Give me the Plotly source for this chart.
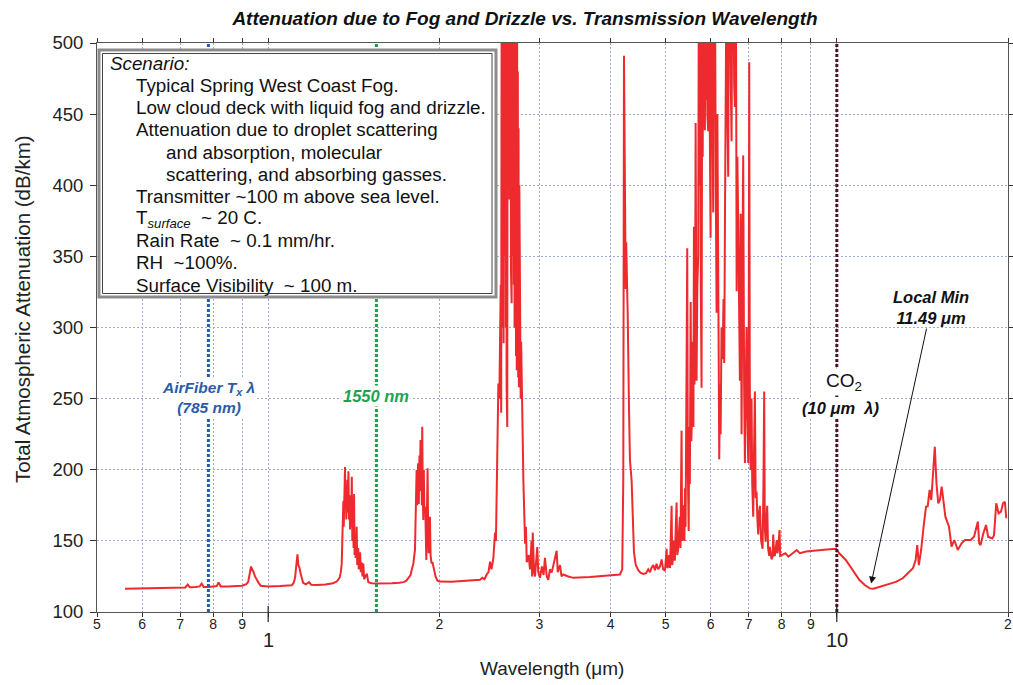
import math
import plotly.graph_objects as go

# ---------------- data ----------------
wl_vis = [0.56, 0.60, 0.65, 0.70, 0.715, 0.722, 0.728, 0.745, 0.758, 0.764, 0.770, 0.785, 0.80,
          0.812, 0.818, 0.825, 0.85, 0.88, 0.90, 0.915, 0.922, 0.927, 0.933, 0.937, 0.942, 0.948,
          0.955, 0.962, 0.970, 0.985, 1.00, 1.05, 1.10, 1.108, 1.115, 1.120, 1.126, 1.130, 1.135,
          1.140, 1.146, 1.152, 1.165, 1.18, 1.19, 1.22, 1.26, 1.29]
att_vis = [116.3, 116.5, 116.7, 117.0, 117.3, 119.3, 117.4, 117.5, 118.0, 120.0, 117.6, 117.6, 117.8,
           118.2, 120.8, 118.0, 118.0, 118.2, 118.5, 119.5, 121.0, 126.0, 132.0, 130.0, 128.3, 125.0,
           122.5, 120.5, 118.5, 118.0, 118.0, 118.3, 118.8, 120.2, 124.0, 131.9, 140.6, 133.0, 131.0,
           127.2, 124.0, 120.5, 119.5, 121.0, 119.2, 119.0, 119.3, 120.0]

wl_h2o_14 = [1.30, 1.32, 1.335, 1.342, 1.347, 1.350, 1.353, 1.356, 1.358, 1.360, 1.362, 1.365, 1.367,
             1.370, 1.372, 1.375, 1.378, 1.380, 1.384, 1.387, 1.390, 1.393, 1.396, 1.399, 1.403,
             1.406, 1.410, 1.413, 1.416, 1.419, 1.422, 1.425, 1.431, 1.434, 1.440, 1.443, 1.451,
             1.455, 1.460, 1.465, 1.470, 1.475, 1.482, 1.491, 1.50, 1.52, 1.55, 1.60, 1.65, 1.70,
             1.73, 1.75, 1.765, 1.78, 1.788, 1.80, 1.812, 1.818, 1.824, 1.828, 1.832, 1.835, 1.840,
             1.845, 1.848, 1.853, 1.857, 1.860, 1.863, 1.866, 1.870, 1.874, 1.878, 1.882, 1.889,
             1.893, 1.897, 1.902, 1.907, 1.911, 1.915, 1.920, 1.925, 1.930, 1.938, 1.945, 1.952,
             1.96, 1.97, 1.985]
att_h2o_14 = [120.2, 121.4, 124.0, 128.0, 134.0, 150.0, 165.0, 178.0, 160.0, 188.0, 170.0, 202.0, 175.0,
              190.0, 165.0, 185.0, 193.0, 170.0, 199.0, 165.0, 182.0, 158.0, 176.0, 160.0, 195.0,
              150.0, 170.0, 145.0, 183.0, 140.0, 155.0, 138.0, 160.0, 133.0, 145.0, 130.0, 142.0,
              128.0, 135.0, 125.0, 134.0, 123.0, 125.0, 127.0, 121.0, 120.2, 120.0, 120.0, 120.2, 120.6,
              121.0, 122.0, 123.7, 126.0, 129.5, 134.0, 143.6, 165.0, 199.8, 175.0, 195.0, 204.5, 176.0,
              210.0, 185.0, 220.9, 190.0, 206.9, 175.0, 230.3, 185.0, 164.7, 200.0, 170.0, 174.0,
              150.0, 136.6, 170.0, 201.0, 160.0, 141.3, 150.0, 167.0, 140.0, 134.2, 135.0, 131.9,
              127.0, 124.8, 122.0]

wl_h2o_27 = [2.0, 2.1, 2.2, 2.26, 2.30, 2.358, 2.38, 2.40, 2.423, 2.44, 2.456, 2.47, 2.489, 2.506,
             2.515, 2.523, 2.54, 2.55, 2.564, 2.569, 2.574, 2.578, 2.582, 2.586, 2.590, 2.594, 2.598,
             2.602, 2.606, 2.610, 2.614, 2.618, 2.622, 2.626, 2.630, 2.633, 2.637, 2.641, 2.645,
             2.649, 2.653, 2.657, 2.661, 2.665, 2.669, 2.673, 2.677, 2.680, 2.684, 2.688, 2.692,
             2.696, 2.700, 2.704, 2.708, 2.712, 2.716, 2.720, 2.724, 2.728, 2.732, 2.736, 2.740,
             2.744, 2.748, 2.752, 2.756, 2.760, 2.765, 2.770, 2.775, 2.780, 2.785, 2.792, 2.798,
             2.805, 2.81, 2.82, 2.83, 2.84, 2.849, 2.87, 2.887, 2.905, 2.912, 2.919, 2.935, 2.946,
             2.96, 2.973, 2.985, 3.006, 3.03, 3.05, 3.067, 3.09, 3.109, 3.13, 3.152, 3.18, 3.216,
             3.23, 3.26, 3.28, 3.304, 3.371, 3.44, 3.681, 3.992, 4.155]
att_h2o_27 = [121.4, 121.2, 121.6, 122.1, 122.5, 122.6, 124.0, 123.0, 126.4, 128.0, 135.4, 130.0, 138.0, 155.8,
              150.0, 191.6, 260.6, 250.0, 329.8, 240.0, 560.0, 330.0, 560.0, 300.0, 560.0, 289.0, 560.0,
              380.0, 560.0, 350.0, 560.0, 300.0, 560.0, 260.0, 560.0, 230.0, 560.0, 457.0, 560.0,
              420.0, 560.0, 390.0, 560.0, 440.0, 560.0, 340.0, 560.0, 317.0, 560.0, 350.0, 560.0,
              383.0, 560.0, 330.0, 560.0, 300.0, 560.0, 320.0, 560.0, 280.0, 540.0, 270.0, 520.0,
              300.0, 480.0, 265.0, 440.0, 258.0, 400.0, 290.0, 330.0, 250.0, 290.0, 245.0, 260.0,
              215.0, 194.0, 165.0, 148.0, 160.0, 135.0, 140.0, 130.0, 150.0, 125.0, 155.8, 128.0, 125.0,
              140.0, 145.6, 128.0, 124.0, 132.0, 126.0, 138.0, 125.0, 122.6, 130.0, 127.7, 135.0, 143.0,
              128.0, 133.0, 125.0, 126.4, 125.0, 124.0, 124.6, 125.6, 126.4]

wl_co2_43 = [4.194, 4.212, 4.224, 4.232, 4.241, 4.253, 4.262, 4.27, 4.288, 4.31, 4.327, 4.357, 4.38,
             4.398, 4.43, 4.475, 4.52, 4.567, 4.62, 4.66, 4.693, 4.72, 4.756, 4.788, 4.82, 4.85,
             4.886, 4.92, 4.95, 4.986]
att_co2_43 = [130.0, 194.0, 491.0, 420.0, 386.0, 327.0, 360.0, 330.0, 309.0, 245.0, 207.0, 192.0, 160.0,
              142.0, 133.0, 129.4, 127.5, 126.8, 127.3, 130.0, 128.0, 131.0, 133.0, 129.4, 134.0, 130.0,
              132.0, 137.0, 130.0, 129.0]

wl_h2o_63 = [5.02, 5.035, 5.052, 5.07, 5.09, 5.122, 5.135, 5.155, 5.17, 5.19, 5.21, 5.227, 5.24, 5.261,
             5.28, 5.297, 5.31, 5.333, 5.345, 5.369, 5.38, 5.395, 5.406, 5.42, 5.44, 5.457, 5.47,
             5.489, 5.50, 5.515, 5.533, 5.548, 5.563, 5.58, 5.595, 5.607, 5.62, 5.635, 5.645, 5.657,
             5.667, 5.685, 5.705, 5.72, 5.735, 5.75, 5.765, 5.783, 5.80, 5.81, 5.822, 5.84, 5.861,
             5.88, 5.89, 5.902, 5.92, 5.94, 5.95, 5.975, 5.998, 6.01, 6.025, 6.038, 6.05, 6.062,
             6.08, 6.09, 6.104, 6.125, 6.146, 6.165, 6.186, 6.20, 6.212, 6.23, 6.247, 6.27, 6.297,
             6.32, 6.339, 6.36, 6.38, 6.399, 6.42, 6.442, 6.46, 6.486, 6.51, 6.53, 6.55, 6.574, 6.6,
             6.619, 6.635, 6.646, 6.665, 6.685, 6.709, 6.73, 6.754, 6.775, 6.8, 6.82, 6.845, 6.87,
             6.893, 6.915, 6.939, 6.96, 6.985, 7.0, 7.014, 7.03, 7.053, 7.065, 7.08, 7.1, 7.128,
             7.15, 7.177, 7.2, 7.226, 7.25, 7.274, 7.3, 7.324, 7.36, 7.404, 7.43, 7.452, 7.47, 7.495,
             7.52, 7.544, 7.57, 7.604, 7.62, 7.65, 7.679, 7.71, 7.729, 7.76, 7.781, 7.84, 7.86,
             7.886, 7.93, 7.95]
att_h2o_63 = [144.4, 131.0, 132.0, 140.0, 131.0, 174.6, 133.0, 139.0, 150.0, 136.0, 160.0, 177.0, 140.0, 144.0,
              158.0, 167.0, 145.0, 227.5, 150.0, 154.5, 175.0, 150.0, 187.0, 160.0, 260.0, 355.7, 200.0,
              157.0, 230.0, 190.0, 318.0, 220.0, 237.5, 290.0, 230.0, 370.8, 260.0, 320.0, 443.7, 300.0,
              262.6, 330.0, 350.7, 560.0, 400.0, 560.0, 330.0, 257.6, 560.0, 420.0, 560.0, 470.0, 438.7,
              560.0, 460.0, 560.0, 450.0, 438.0, 560.0, 480.0, 363.0, 560.0, 460.0, 560.0, 430.0, 380.8,
              560.0, 470.0, 560.0, 400.0, 310.4, 450.0, 370.8, 280.0, 207.3, 260.0, 225.0, 300.0, 277.7,
              320.0, 275.0, 388.4, 560.0, 560.0, 450.0, 406.0, 560.0, 560.0, 470.0, 431.0, 560.0, 560.0, 470.0,
              455.0, 560.0, 560.0, 325.5, 420.0, 370.8, 300.0, 262.6, 380.0, 225.0, 330.0, 421.0, 260.0,
              204.8, 260.0, 300.4, 240.0, 204.8, 300.0, 486.5, 260.0, 199.8, 230.0, 250.0, 190.0, 167.0,
              210.0, 255.0, 180.0, 184.7, 165.0, 154.5, 170.0, 174.6, 150.0, 144.4, 190.0, 255.0, 160.0, 149.5,
              165.0, 174.6, 145.0, 139.4, 145.9, 140.0, 137.0, 138.9, 154.5, 140.0, 139.4, 150.6, 141.3,
              144.4, 157.6, 139.4]

wl_ir = [8.0, 8.05, 8.12, 8.22, 8.35, 8.46, 8.5, 8.61, 8.83, 9.1, 9.33, 9.6, 9.97, 10.1, 10.37, 10.67,
         10.96, 11.2, 11.43, 11.6, 11.92, 12.33, 12.7, 13.06, 13.25, 13.43, 13.61, 13.76, 13.85,
         13.94, 14.07, 14.21, 14.35, 14.45, 14.56, 14.66, 14.77, 14.87, 14.97, 15.08, 15.18, 15.29,
         15.52, 15.75, 15.91, 16.09, 16.32, 16.57, 16.8, 17.2, 17.43, 17.7, 17.8, 17.9, 18.1, 18.3,
         18.45, 18.77, 18.9, 19.07, 19.25, 19.44, 19.6, 19.75, 19.86]
att_ir = [140.0, 141.0, 141.3, 138.9, 141.0, 142.4, 143.6, 141.3, 142.5, 143.0, 143.6, 144.0, 144.5, 141.3,
          136.6, 129.5, 122.5, 119.0, 116.6, 116.3, 117.8, 120.1, 121.2, 123.7, 126.0, 128.3, 130.7,
          136.6, 147.1, 133.0, 143.6, 160.0, 174.0, 174.4, 185.8, 178.7, 197.5, 216.2, 190.5, 176.4,
          178.7, 188.1, 167.0, 160.0, 145.9, 150.6, 143.6, 148.3, 150.6, 150.6, 152.9, 163.5, 148.3,
          147.1, 155.3, 161.2, 152.9, 151.7, 154.0, 176.4, 169.4, 170.5, 176.4, 177.5, 165.9]

x_tick_vals = [0.5, 0.6, 0.7, 0.8, 0.9, 1, 2, 3, 4, 5, 6, 7, 8, 9, 10, 20]
x_tick_text = ["5", "6", "7", "8", "9", "", "2", "3", "4", "5", "6", "7", "8", "9", "", "2"]
x_major_vals = [1, 10]
x_major_text = ["1", "10"]
y_tick_vals = [100, 150, 200, 250, 300, 350, 400, 450, 500]

marker_lines = [0.785, 1.55, 10.0]          # AirFiber Tx, 1550 nm, CO2 10 um
local_min_wl = 11.49
local_min_att = 120.0

scenario_lines = [
    "<i>Scenario:</i>",
    "Typical Spring West Coast Fog.",
    "Low cloud deck with liquid fog and drizzle.",
    "Attenuation due to droplet scattering",
    "and absorption, molecular",
    "scattering, and absorbing gasses.",
    "Transmitter ~100 m above sea level.",
    "T<sub><i>surface</i></sub>\u00a0 ~ 20 C.",
    "Rain Rate\u00a0 ~ 0.1 mm/hr.",
    "RH\u00a0 ~100%.",
    "Surface Visibility\u00a0 ~ 100 m.",
]
scenario_indent = [0, 1, 1, 1, 2, 2, 1, 1, 1, 1, 1]

# ---------------- figure ----------------
wl = wl_vis + wl_h2o_14 + wl_h2o_27 + wl_co2_43 + wl_h2o_63 + wl_ir
att = att_vis + att_h2o_14 + att_h2o_27 + att_co2_43 + att_h2o_63 + att_ir

FONT = "Arial, 'Liberation Sans', sans-serif"
L, R, T, B = 97, 5, 43, 73
W, H = 1013, 685
PW, PH = W - L - R, H - T - B


def px(xp):
    return (xp - L) / PW


def py(yp):
    return (H - B - yp) / PH


fig = go.Figure()
fig.add_trace(go.Scatter(x=wl, y=att, mode="lines",
                         line=dict(color="#ee2a2e", width=2), hoverinfo="skip", showlegend=False))

grid = dict(showgrid=True, gridcolor="#9ea5da", griddash="2px,2px", gridwidth=1, zeroline=False,
            showline=True, linecolor="#555", linewidth=1, mirror="ticks",
            ticks="outside", tickcolor="#333", automargin=False)

fig.update_layout(
    width=W, height=H, margin=dict(l=L, r=R, t=T, b=B, autoexpand=False),
    paper_bgcolor="white", plot_bgcolor="white",
    font=dict(family=FONT, color="#222"),
    title=dict(text="<b><i>Attenuation due to Fog and Drizzle vs. Transmission Wavelength</i></b>",
               x=525 / W, xref="container", xanchor="center",
               y=1 - 18 / H, yref="container", yanchor="middle",
               font=dict(size=19, color="#111", family=FONT)),
    xaxis=dict(type="log", range=[math.log10(0.5), math.log10(20)],
               tickmode="array", tickvals=x_tick_vals, ticktext=x_tick_text,
               tickfont=dict(size=14, color="#222"), ticklen=4, ticklabelstandoff=-5, **grid),
    yaxis=dict(range=[100, 500], tickmode="array", tickvals=y_tick_vals,
               tickfont=dict(size=18.5, color="#222"), ticklen=6, ticklabelstandoff=3, **grid),
)

shapes = []
# vertical marker lines
line_styles = [("#1f5db0", 3), ("#14a24c", 3), ("#4f1022", 3)]
for xv, (col, w) in zip(marker_lines, line_styles):
    shapes.append(dict(type="line", xref="x", yref="paper", x0=xv, x1=xv, y0=0, y1=1,
                       line=dict(color=col, width=w, dash="3px,2px"), layer="above"))
# longer major ticks at decades
for xv in x_major_vals:
    shapes.append(dict(type="line", xref="x", yref="paper", x0=xv, x1=xv,
                       y0=-10 / PH, y1=6 / PH, line=dict(color="#222", width=1.2), layer="above"))
# scenario box (outer gray frame + inner thin frame)
shapes.append(dict(type="rect", xref="paper", yref="paper", x0=px(99), x1=px(496),
                   y0=py(297), y1=py(50), line=dict(color="#8c8c8c", width=3),
                   fillcolor="white", layer="above"))
shapes.append(dict(type="rect", xref="paper", yref="paper", x0=px(102.5), x1=px(492),
                   y0=py(293.5), y1=py(53.5), line=dict(color="#444", width=1),
                   fillcolor="rgba(0,0,0,0)", layer="above"))
fig.update_layout(shapes=shapes)

ann = []
# scenario text
indent_px = [108, 134, 164]
for i, (txt, ind) in enumerate(zip(scenario_lines, scenario_indent)):
    ann.append(dict(text=txt, xref="paper", yref="paper", x=px(indent_px[ind]), y=py(63.5 + i * 22.15),
                    xanchor="left", yanchor="middle", showarrow=False,
                    font=dict(size=18.8, color="#111", family=FONT)))
# decade labels
for xv, txt in zip(x_major_vals, x_major_text):
    ann.append(dict(text=txt, xref="x", yref="paper", x=math.log10(xv), y=py(640),
                    xanchor="center", yanchor="middle", showarrow=False,
                    font=dict(size=20, color="#222", family=FONT)))
# axis titles
ann.append(dict(text="Wavelength (\u03bcm)", xref="paper", yref="paper", x=px(552), y=py(668),
                xanchor="center", yanchor="middle", showarrow=False,
                font=dict(size=19, color="#222", family=FONT)))
ann.append(dict(text="Total Atmospheric Attenuation (dB/km)", xref="paper", yref="paper",
                x=px(22), y=py(309), textangle=-90, xanchor="center", yanchor="middle",
                showarrow=False, font=dict(size=20.5, color="#222", family=FONT)))
# marker labels
ann.append(dict(text="<b><i>AirFiber T<sub>x</sub> \u03bb<br>(785 nm)</i></b>", xref="x", yref="paper",
                x=math.log10(marker_lines[0]), y=py(397), xanchor="center", yanchor="middle",
                showarrow=False, bgcolor="white", borderpad=1,
                font=dict(size=15.5, color="#2a5ca8", family=FONT)))
ann.append(dict(text="<b><i>1550 nm</i></b>", xref="x", yref="paper",
                x=math.log10(marker_lines[1]), y=py(396), xanchor="center", yanchor="middle",
                showarrow=False, bgcolor="white", borderpad=1,
                font=dict(size=16.5, color="#1ea34f", family=FONT)))
ann.append(dict(text="CO<sub>2</sub>", xref="x", yref="paper",
                x=math.log10(marker_lines[2]) + 0.012, y=py(382), xanchor="center", yanchor="middle",
                showarrow=False, bgcolor="white", borderpad=1,
                font=dict(size=19, color="#111", family=FONT)))
ann.append(dict(text="<b><i>(10 \u03bcm\u00a0 \u03bb)</i></b>", xref="x", yref="paper",
                x=math.log10(marker_lines[2]) + 0.006, y=py(408), xanchor="center", yanchor="middle",
                showarrow=False, bgcolor="white", borderpad=1,
                font=dict(size=16.5, color="#111", family=FONT)))
# local minimum call-out
ann.append(dict(text="<b><i>Local Min<br>11.49 \u03bcm</i></b>", xref="x", yref="y",
                x=math.log10(local_min_wl), y=local_min_att, ax=60, ay=-276,
                showarrow=True, arrowhead=2, arrowsize=1.4, arrowwidth=1, arrowcolor="#111",
                font=dict(size=16.5, color="#111", family=FONT)))
fig.update_layout(annotations=ann)

fig.write_html("out.html")
